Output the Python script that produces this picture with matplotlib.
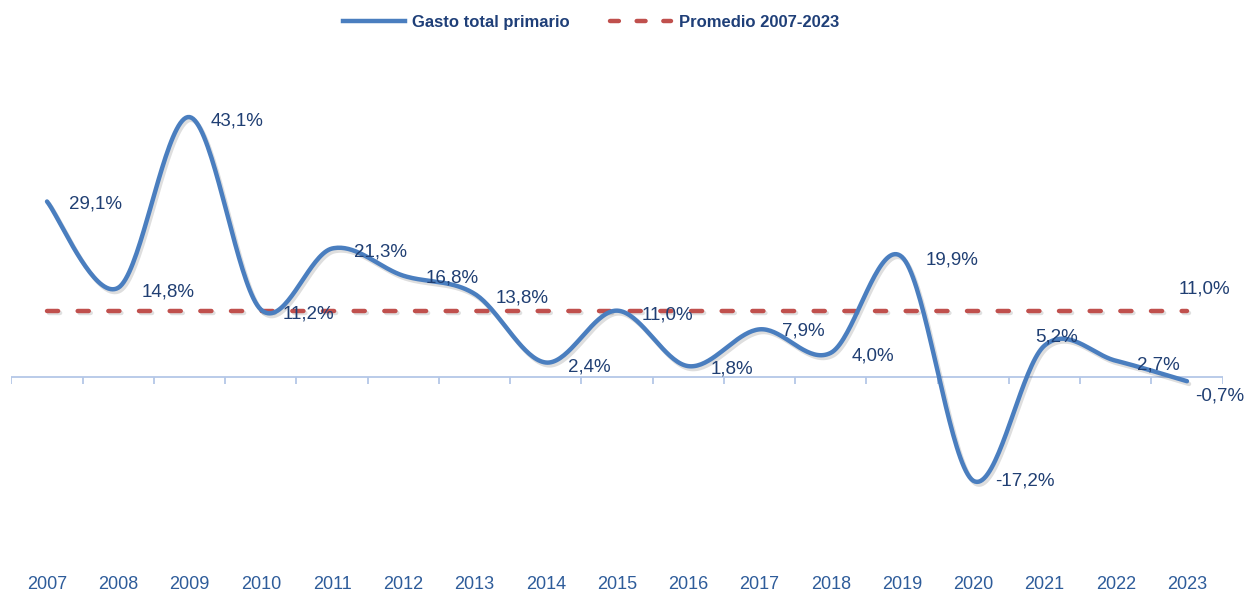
import numpy as np
import matplotlib
matplotlib.use("Agg")
import matplotlib.pyplot as plt
import matplotlib.patheffects as pe
from matplotlib.lines import Line2D

# ---------------- data ----------------
years = [2007, 2008, 2009, 2010, 2011, 2012, 2013, 2014, 2015,
         2016, 2017, 2018, 2019, 2020, 2021, 2022, 2023]
gasto = [29.1, 14.8, 43.1, 11.2, 21.3, 16.8, 13.8, 2.4, 11.0,
         1.8, 7.9, 4.0, 19.9, -17.2, 5.2, 2.7, -0.7]
promedio = 11.0
series_names = ["Gasto total primario", "Promedio 2007-2023"]

# label offsets (pixels, right / down from point, to label centre)
label_dx = [48, 50, 48, 48, 48, 49, 48, 44, 50, 44, 44, 42, 50, 52, 12, 43, 33]
label_dy = [0, 2, 1.5, 2, 1.5, 0, 2, 2, 2, 1, 0, 1, 1, -1.5, -10.5, 2, 13]

# ---------------- styling ----------------
BLUE = "#4A7EBF"
RED = "#C0504D"
LABEL = "#203F73"
TICK = "#2E5C9A"
AXIS = "#B4C7E7"
FONT = "Liberation Sans"

plt.rcParams["font.family"] = [FONT, "DejaVu Sans"]

fig = plt.figure(figsize=(12.52, 5.97), dpi=100)
ax = fig.add_axes([11.4 / 1252, 39.1 / 597, 1211.2 / 1252, 512.6 / 597])
ax.set_xlim(years[0] - 0.5, years[-1] + 0.5)
ax.set_ylim(-30, 55)
for s in ax.spines.values():
    s.set_visible(False)
ax.set_yticks([])


def catmull_rom(x, y, n=40):
    x = np.asarray(x, float)
    y = np.asarray(y, float)
    px = np.concatenate([[x[0]], x, [x[-1]]])
    py = np.concatenate([[y[0]], y, [y[-1]]])
    xs, ys = [], []
    t = np.linspace(0, 1, n)
    for i in range(1, len(px) - 2):
        p0x, p1x, p2x, p3x = px[i - 1], px[i], px[i + 1], px[i + 2]
        p0y, p1y, p2y, p3y = py[i - 1], py[i], py[i + 1], py[i + 2]
        c1x = p1x + (p2x - p0x) / 6
        c1y = p1y + (p2y - p0y) / 6
        c2x = p2x - (p3x - p1x) / 6
        c2y = p2y - (p3y - p1y) / 6
        bx = ((1 - t) ** 3) * p1x + 3 * ((1 - t) ** 2) * t * c1x + 3 * (1 - t) * t ** 2 * c2x + t ** 3 * p2x
        by = ((1 - t) ** 3) * p1y + 3 * ((1 - t) ** 2) * t * c1y + 3 * (1 - t) * t ** 2 * c2y + t ** 3 * p2y
        xs.append(bx if i == 1 else bx[1:])
        ys.append(by if i == 1 else by[1:])
    return np.concatenate(xs), np.concatenate(ys)


# zero axis line with category-boundary ticks
ax.axhline(0, color=AXIS, lw=1.3, zorder=1)
bounds = np.arange(years[0] - 0.5, years[-1] + 1.0, 1.0)
ax.vlines(bounds, -1.15, 0, color=AXIS, lw=1.3, zorder=1)

# average dashed line
avg_line, = ax.plot([years[0], years[-1]], [promedio, promedio], color=RED, lw=3.2,
                    dashes=(2.5, 4.4), dash_capstyle="round", zorder=2,
                    path_effects=[pe.SimpleLineShadow(offset=(1.2, -1.5), alpha=0.12),
                                  pe.Normal()])

# smoothed main line
sx, sy = catmull_rom(years, gasto)
main_line, = ax.plot(sx, sy, color=BLUE, lw=3.2, solid_capstyle="round", zorder=3,
                     path_effects=[pe.SimpleLineShadow(offset=(1.5, -2), alpha=0.13),
                                   pe.Normal()])


def fmt(v):
    return f"{v:.1f}%".replace(".", ",")


CAP_HALF = 6.6  # half of digit cap height in pixels
for yr, v, dx, dy in zip(years, gasto, label_dx, label_dy):
    ax.annotate(fmt(v), (yr, v), xytext=(dx, -(dy + CAP_HALF)),
                textcoords="offset pixels", ha="center", va="baseline",
                fontsize=13.5, color=LABEL, zorder=5)

ax.annotate(fmt(promedio), (years[-1], promedio), xytext=(17, 23.5 - CAP_HALF),
            textcoords="offset pixels", ha="center", va="baseline",
            fontsize=13.5, color=LABEL, zorder=5)

# x tick labels at bottom
ax.set_xticks(years)
ax.set_xticklabels([str(y) for y in years], fontsize=13, color=TICK)
ax.tick_params(axis="x", length=0, pad=13)

# legend
h1 = Line2D([], [], color=BLUE, lw=3.2)
h2 = Line2D([], [], color=RED, lw=3.2, dashes=(2.0, 4.0), dash_capstyle="round")
leg = fig.legend([h1, h2], series_names, loc="center", bbox_to_anchor=(0.472, 0.963),
                 ncol=2, frameon=False, handlelength=3.7, handletextpad=0.45,
                 columnspacing=2.4, prop={"family": FONT, "weight": "bold", "size": 12})
for t in leg.get_texts():
    t.set_color("#1F3F78")

fig.savefig("out.png", dpi=100)
